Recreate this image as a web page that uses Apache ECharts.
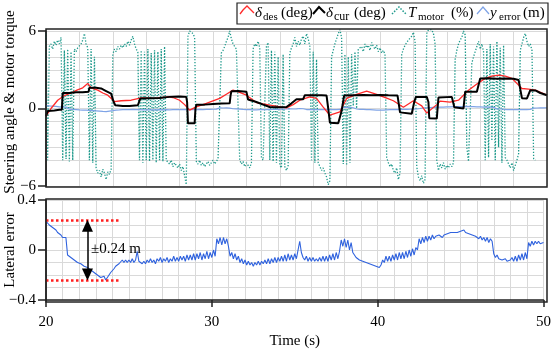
<!DOCTYPE html>
<html><head><meta charset="utf-8">
<script src="https://cdn.jsdelivr.net/npm/echarts@6/dist/echarts.min.js"></script>
<style>html,body{margin:0;padding:0;background:#fff}#c{width:554px;height:350px}</style>
</head><body><div id="c"></div>
<script>
// sampling grid of the sampled series (s)
const T0 = 20, DT = 0.1;

// T_motor (%/10 scale on the top axis), one row per second, 0.1 s steps
const tMotor = [
  5.8, -4.0, 4.8, 5.0, 4.6, 5.2, 4.9, 5.3, 5.0, 5.5,
  -4.0, 4.5, -3.9, 4.6, -4.1, 4.4, -4.0, 4.6, 4.4, 4.7,
  4.6, 5.0, 5.3, 5.8, 5.0, 4.7, -4.0, 4.6, -4.2, 4.0,
  -4.6, -5.0, -4.8, -5.3, -4.7, -5.0, -5.5, -4.9, -5.1, -4.7,
  4.2, 4.6, 4.4, 4.8, 4.6, 4.9, 4.7, 5.0, 4.8, 5.2,
  4.9, 5.3, 5.6, 5.0, 4.6, 4.4, -4.0, 4.5, -4.2, 4.4,
  -4.0, 4.6, -4.1, 4.3, -4.0, 4.5, -4.2, 4.4, -4.0, 4.6,
  -4.1, 4.8, -4.0, -4.1, -4.3, -4.0, -4.5, -4.2, -4.4, -4.6,
  -4.3, -4.8, -4.5, -5.2, -5.9, 5.6, 6.0, 6.1, 5.8, 5.5,
  -4.1, -4.3, -4.0, -4.4, -4.2, -4.5, -4.3, -4.1, -4.4, -4.2,
  -4.0, -4.3, -4.1, -3.9, -3.8, 4.3, 4.5, 4.8, 5.2, 5.5,
  6.0, 5.4, 5.0, 5.1, 4.6, 4.5, -4.0, -4.3, -4.1, -4.5,
  -4.2, -4.4, -4.6, -4.2, 4.6, 5.0, 4.8, 5.2, 4.7, -3.8,
  -4.0, -3.9, 4.8, 5.1, -4.0, 4.5, -4.1, 4.4, -4.2, 4.0,
  -4.4, -4.6, 4.2, -4.5, -4.8, -4.4, 4.3, 4.7, 5.0, 5.5,
  4.8, 5.2, 4.9, 5.4, 5.6, 5.0, 5.8, 5.4, 4.8, -4.0,
  4.4, -4.2, 3.8, -4.2, -4.5, -4.8, -4.6, -5.0, -5.3, -5.9,
  -5.6, 4.0, 4.5, 5.0, 5.4, 5.8, 6.1, 5.5, -4.3, 4.2,
  -4.4, 4.0, -4.2, 4.2, 0.2, 4.4, 0.0, 4.6, 4.5, 4.8,
  4.4, 5.0, 4.7, 4.9, 4.5, 5.1, 4.8, 4.6, 4.9, 4.4,
  4.7, 4.3, 4.5, 4.2, -3.8, -4.2, -4.5, -4.3, -4.8, -5.0,
  -4.6, -5.5, -5.0, 4.2, 4.6, 4.9, 5.0, 5.3, 5.4, 5.6,
  5.9, 5.2, -4.5, -5.3, -5.6, -5.2, -5.8, -5.5, 5.8, 6.1,
  6.0, 6.1, 5.8, 5.0, -4.0, -4.8, -4.3, -4.6, -4.2, -4.7,
  -4.4, -4.6, -4.3, -4.5, -4.2, 3.8, 4.5, 5.0, 5.3, 5.5,
  6.0, 5.7, -3.0, -4.1, -4.0, 3.5, 4.0, 4.4, 4.8, 5.2,
  4.6, 5.0, 4.4, -4.0, 4.6, -3.8, 5.0, -2.5, 4.8, -4.0,
  5.2, -3.0, 4.7, -4.2, 4.9, -3.8, -4.0, -4.3, -4.6, -4.2,
  -4.8, -4.4, -4.0, -3.5, 4.5, 5.0, 5.5, 5.8, 5.2, 4.8,
  5.0, 4.5, -3.9, -4.0
];

// lateral error y_error (m), one row per second, 0.1 s steps
const yErr = [
  0.23, 0.22, 0.20, 0.19, 0.18, 0.17, 0.16, 0.14, 0.13, 0.12,
  0.10, 0.09, 0.10, -0.04, -0.05, -0.06, -0.07, -0.08, -0.09, -0.10,
  -0.11, -0.11, -0.12, -0.13, -0.13, -0.14, -0.15, -0.16, -0.17, -0.18,
  -0.19, -0.20, -0.21, -0.22, -0.23, -0.21, -0.24, -0.22, -0.20, -0.18,
  -0.17, -0.15, -0.13, -0.12, -0.11, -0.10, -0.08, -0.10, -0.08, -0.10,
  -0.08, -0.10, -0.07, -0.10, -0.08, -0.01, -0.09, -0.08, -0.11, -0.09,
  -0.11, -0.08, -0.10, -0.07, -0.10, -0.08, -0.11, -0.07, -0.09, -0.06,
  -0.10, -0.07, -0.09, -0.06, -0.10, -0.07, -0.09, -0.05, -0.09, -0.06,
  -0.09, -0.05, -0.08, -0.05, -0.09, -0.04, -0.08, -0.04, -0.08, -0.03,
  -0.08, -0.03, -0.07, -0.02, -0.08, -0.03, -0.07, -0.01, -0.07, -0.02,
  -0.06, 0.00, -0.05, 0.09, 0.05, 0.10, 0.04, 0.10, 0.05, 0.09,
  0.03, -0.05, -0.02, -0.07, -0.03, -0.08, -0.05, -0.10, -0.07, -0.11,
  -0.08, -0.12, -0.09, -0.12, -0.10, -0.13, -0.10, -0.12, -0.09, -0.12,
  -0.09, -0.11, -0.08, -0.11, -0.07, -0.11, -0.07, -0.10, -0.06, -0.10,
  -0.06, -0.09, -0.05, -0.09, -0.04, -0.09, -0.03, -0.08, -0.04, -0.08,
  -0.03, -0.07, 0.00, 0.07, -0.02, -0.06, -0.08, -0.05, -0.09, -0.06,
  -0.09, -0.06, -0.09, -0.07, -0.09, -0.06, -0.09, -0.05, -0.09, -0.05,
  -0.09, -0.04, -0.08, -0.03, -0.08, -0.02, -0.07, -0.01, 0.08, 0.03,
  0.09, 0.02, 0.08, 0.00, 0.06, -0.02, -0.04, -0.06, -0.07, -0.08,
  -0.07, -0.09, -0.08, -0.10, -0.09, -0.11, -0.10, -0.12, -0.12, -0.13,
  -0.13, -0.14, -0.12, -0.08, -0.10, -0.05, -0.09, -0.05, -0.09, -0.04,
  -0.08, -0.03, -0.08, -0.02, -0.07, -0.02, -0.07, -0.01, -0.06, 0.00,
  -0.05, 0.01, -0.04, 0.02, 0.00, 0.09, 0.05, 0.10, 0.06, 0.11,
  0.07, 0.11, 0.08, 0.12, 0.09, 0.11, 0.10, 0.12, 0.11, 0.10,
  0.12, 0.11, 0.13, 0.12, 0.14, 0.13, 0.14, 0.15, 0.14, 0.15,
  0.15, 0.14, 0.16, 0.14, 0.15, 0.13, 0.14, 0.12, 0.13, 0.11,
  0.12, 0.09, 0.11, 0.08, 0.10, 0.07, 0.10, 0.06, 0.09, 0.07,
  -0.03, -0.06, -0.04, -0.07, -0.06, -0.08, -0.09, -0.07, -0.09, -0.10,
  -0.08, -0.06, -0.09, -0.05, -0.09, -0.04, -0.08, -0.03, -0.08, -0.02,
  -0.07, 0.06, 0.03, 0.07, 0.04, 0.07, 0.05, 0.07, 0.05, 0.06,
  0.06
];

// delta_des (deg)
const desTime = [20.0,20.3,20.7,21.1,21.5,21.85,22.2,22.5,22.7,23.1,23.4,23.7,24.1,24.5,25.1,25.7,26.5,27.3,27.6,28.0,28.3,28.6,29.0,29.6,30.4,30.8,31.2,31.6,32.0,32.6,33.4,34.4,34.8,35.2,35.8,36.2,36.6,37.0,37.6,38.0,38.6,39.2,39.8,40.4,40.8,41.4,42.0,42.5,42.8,43.4,43.6,44.2,44.7,45.3,45.8,46.3,46.7,47.1,47.5,47.9,48.5,48.9,49.3,50.0];
const desVal  = [-0.6,0.0,0.64,1.0,1.2,1.42,1.6,1.94,1.6,1.42,1.2,1.03,0.54,0.6,0.64,0.83,0.78,0.9,0.85,0.64,0.3,-0.13,0.13,0.39,0.78,1.1,1.42,1.25,1.03,0.46,0.26,0.05,0.3,0.64,0.9,0.78,0.1,-0.52,-0.26,0.78,1.1,1.34,1.1,0.8,0.6,0.1,0.6,0.2,-0.35,0.3,0.57,0.5,0.64,1.42,1.9,2.33,2.5,2.58,2.5,2.33,1.55,1.5,1.42,1.03];

// delta_cur (deg)
const curTime = [20.0,20.1,20.2,20.5,20.8,20.95,21.0,21.4,21.8,22.2,22.55,22.6,23.0,23.3,23.6,23.9,24.05,24.15,24.6,25.0,25.5,25.6,25.65,26.2,26.8,27.4,28.0,28.4,28.45,28.5,28.9,28.95,29.0,29.5,30.0,30.5,31.0,31.05,31.1,31.5,32.0,32.1,32.6,33.0,33.4,34.0,34.4,34.7,35.0,35.4,35.5,36.0,36.5,36.8,36.9,37.0,37.5,37.7,37.85,38.5,39.0,39.5,40.0,40.5,41.05,41.2,41.3,41.9,42.05,42.15,42.8,42.9,42.95,43.4,43.5,44.3,44.45,44.5,45.0,45.1,45.8,46.0,46.5,47.0,47.5,48.0,48.3,48.5,48.8,49.0,49.3,49.6,50.0];
const curVal  = [-0.6,-0.2,-0.1,-0.15,-0.1,-0.1,1.2,1.2,1.25,1.25,1.3,1.6,1.6,1.55,1.35,1.15,0.5,0.25,0.2,0.2,0.25,0.3,0.78,0.8,0.82,0.9,0.92,0.9,0.5,-1.15,-1.15,0.0,0.3,0.3,0.35,0.38,0.4,1.0,1.34,1.36,1.3,0.7,0.5,0.3,0.12,0.1,0.12,0.4,0.72,0.72,1.03,1.03,1.03,1.0,0.0,-1.1,-1.15,-0.2,1.0,1.03,1.05,1.03,1.05,1.02,1.0,-0.3,-0.39,-0.4,0.5,0.9,0.9,0.5,-0.75,-0.78,0.85,0.9,0.1,0.0,0.0,1.3,1.3,2.33,2.35,2.3,2.33,2.3,2.2,0.8,0.78,1.42,1.4,1.2,1.03];

// axis ticks and annotation values
const timeTicks = [20, 30, 40, 50];
const topRange = [-6, 6];
const bottomRange = [-0.4, 0.4];
const bandLevel = 0.24;
const bandEnd = 24.4;
const arrowTime = 22.5;
const arrowInset = 0.045;   // half arrow-head, so the tips touch the band lines

const FONT = '"Liberation Serif","Times New Roman",serif';
const GRID = '#d9d9d9';
const sampled = arr => arr.map((v, i) => [Math.round((T0 + i * DT) * 10) / 10, v]);
const paired = (ts, vs) => ts.map((t, i) => [t, vs[i]]);
const fmt = v => (v < 0 ? '\u2212' + (-v) : '' + v);

const chart = echarts.init(document.getElementById('c'), null, { renderer: 'canvas' });

const xCommon = {
  type: 'value', min: timeTicks[0], max: timeTicks[timeTicks.length - 1], interval: 10,
  splitLine: { show: true, lineStyle: { color: GRID, width: 1 } },
  minorSplitLine: { show: true, lineStyle: { color: GRID, width: 1 } }
};

const option = {
  animation: false,
  backgroundColor: '#fff',
  grid: [
    { left: 46, top: 31, width: 501, height: 155 },
    { left: 46, top: 200, width: 501, height: 101 }
  ],
  xAxis: [
    Object.assign({}, xCommon, {
      gridIndex: 0,
      axisLine: { show: false, onZero: false }, axisTick: { show: false }, axisLabel: { show: false },
      minorTick: { show: false, splitNumber: 5 }
    }),
    Object.assign({}, xCommon, {
      gridIndex: 1,
      axisLine: { show: true, onZero: false, lineStyle: { color: '#222', width: 1.5 } },
      axisTick: { show: true, inside: false, length: 7, lineStyle: { color: '#222', width: 1.5 } },
      axisLabel: { show: true, margin: 15, fontSize: 15, color: '#000', fontFamily: FONT },
      minorTick: { show: false, splitNumber: 10 },
      name: 'Time (s)', nameLocation: 'middle', nameGap: 34,
      nameTextStyle: { fontSize: 15, color: '#000', fontFamily: FONT }
    })
  ],
  yAxis: [
    {
      gridIndex: 0, type: 'value', min: topRange[0], max: topRange[1], interval: 6,
      axisLine: { show: true, onZero: false, lineStyle: { color: '#222', width: 1.5 } },
      axisTick: { show: true, inside: false, length: 8, lineStyle: { color: '#222', width: 1.5 } },
      axisLabel: { margin: 10, fontSize: 15, color: '#000', fontFamily: FONT, formatter: fmt },
      splitLine: { show: true, lineStyle: { color: GRID, width: 1 } },
      minorTick: { show: false, splitNumber: 6 },
      minorSplitLine: { show: true, lineStyle: { color: GRID, width: 1 } }
    },
    {
      gridIndex: 1, type: 'value', min: bottomRange[0], max: bottomRange[1], interval: 0.4,
      axisLine: { show: true, onZero: false, lineStyle: { color: '#222', width: 1.5 } },
      axisTick: { show: true, inside: false, length: 8, lineStyle: { color: '#222', width: 1.5 } },
      axisLabel: { margin: 10, fontSize: 15, color: '#000', fontFamily: FONT, formatter: fmt },
      splitLine: { show: true, lineStyle: { color: GRID, width: 1 } },
      minorTick: { show: false, splitNumber: 4 },
      minorSplitLine: { show: true, lineStyle: { color: GRID, width: 1 } }
    }
  ],
  series: [
    {
      name: 'Tmotor', type: 'line', xAxisIndex: 0, yAxisIndex: 0, data: sampled(tMotor),
      showSymbol: false, clip: false, z: 2,
      lineStyle: { color: '#1f9a8c', width: 1.3, type: [1.3, 1.7] }
    },
    {
      name: 'yerrTop', type: 'line', xAxisIndex: 0, yAxisIndex: 0, data: sampled(yErr),
      showSymbol: false, z: 3,
      lineStyle: { color: '#7ea3e6', width: 1.2 }
    },
    {
      name: 'des', type: 'line', xAxisIndex: 0, yAxisIndex: 0, data: paired(desTime, desVal),
      showSymbol: false, z: 4,
      lineStyle: { color: '#ff2a2a', width: 1.3 }
    },
    {
      name: 'cur', type: 'line', xAxisIndex: 0, yAxisIndex: 0, data: paired(curTime, curVal),
      showSymbol: false, z: 5,
      lineStyle: { color: '#000', width: 2 }
    },
    {
      name: 'yerr', type: 'line', xAxisIndex: 1, yAxisIndex: 1, data: sampled(yErr),
      showSymbol: false, z: 4,
      lineStyle: { color: '#2f62de', width: 1.1 },
      markLine: {
        silent: true, symbol: ['none', 'none'], label: { show: false },
        lineStyle: { color: '#ff1f1f', width: 2.5, type: [2.5, 2.5] },
        data: [
          [{ coord: [timeTicks[0], bandLevel] }, { coord: [bandEnd, bandLevel] }],
          [{ coord: [timeTicks[0], -bandLevel] }, { coord: [bandEnd, -bandLevel] }]
        ]
      }
    },
    {
      name: 'arrow', type: 'line', xAxisIndex: 1, yAxisIndex: 1, data: [],
      markLine: {
        silent: true, symbol: ['triangle', 'triangle'], symbolSize: [11, 12],
        label: { show: false },
        lineStyle: { color: '#000', width: 1.5, type: 'solid' },
        data: [
          [{ coord: [arrowTime, bandLevel - arrowInset] }, { coord: [arrowTime, -bandLevel + arrowInset] }]
        ]
      }
    }
  ],
  graphic: [
    { type: 'rect', z: 100, shape: { x: 46, y: 29, width: 501, height: 158 }, style: { fill: 'none', stroke: '#222', lineWidth: 1.5 } },
    { type: 'rect', z: 100, shape: { x: 46, y: 199, width: 501, height: 103 }, style: { fill: 'none', stroke: '#222', lineWidth: 1.5 } },
    { type: 'text', z: 100, x: 10, y: 102, rotation: Math.PI / 2,
      style: { text: 'Steering angle & motor torque', font: '15px ' + FONT, fill: '#000', align: 'center', verticalAlign: 'middle' } },
    { type: 'text', z: 100, x: 10, y: 250, rotation: Math.PI / 2,
      style: { text: 'Lateral error', font: '15px ' + FONT, fill: '#000', align: 'center', verticalAlign: 'middle' } },
    { type: 'text', z: 100, x: 91, y: 249,
      style: { text: '\u00b10.24 m', font: '15px ' + FONT, fill: '#000', align: 'left', verticalAlign: 'middle' } },
    // legend box
    { type: 'rect', z: 100, shape: { x: 237, y: 3, width: 311, height: 21 }, style: { fill: '#fff', stroke: '#222', lineWidth: 1.2 } },
    { type: 'polyline', z: 101, shape: { points: [[240, 14], [243, 10], [247, 6], [250, 9], [254, 13]] }, style: { fill: 'none', stroke: '#ff2a2a', lineWidth: 1.3 } },
    { type: 'text', z: 101, x: 255, y: 13, style: { text: '\u03b4', font: 'italic 15px ' + FONT, fill: '#000', verticalAlign: 'middle' } },
    { type: 'text', z: 101, x: 263, y: 17, style: { text: 'des', font: '11px ' + FONT, fill: '#000', verticalAlign: 'middle' } },
    { type: 'text', z: 101, x: 281, y: 13, style: { text: '(deg)', font: '15px ' + FONT, fill: '#000', verticalAlign: 'middle' } },
    { type: 'polyline', z: 101, shape: { points: [[313, 14], [319, 7], [325, 13]] }, style: { fill: 'none', stroke: '#000', lineWidth: 2 } },
    { type: 'text', z: 101, x: 326, y: 13, style: { text: '\u03b4', font: 'italic 15px ' + FONT, fill: '#000', verticalAlign: 'middle' } },
    { type: 'text', z: 101, x: 334, y: 17, style: { text: 'cur', font: '12px ' + FONT, fill: '#000', verticalAlign: 'middle' } },
    { type: 'text', z: 101, x: 354, y: 13, style: { text: '(deg)', font: '15px ' + FONT, fill: '#000', verticalAlign: 'middle' } },
    { type: 'polyline', z: 101, shape: { points: [[392, 14], [399, 7], [406, 14]] }, style: { fill: 'none', stroke: '#1f9a8c', lineWidth: 1.5, lineDash: [1.5, 1.5] } },
    { type: 'text', z: 101, x: 408, y: 13, style: { text: 'T', font: 'italic 15px ' + FONT, fill: '#000', verticalAlign: 'middle' } },
    { type: 'text', z: 101, x: 418, y: 17, style: { text: 'motor', font: '11px ' + FONT, fill: '#000', verticalAlign: 'middle' } },
    { type: 'text', z: 101, x: 451, y: 13, style: { text: '(%)', font: '15px ' + FONT, fill: '#000', verticalAlign: 'middle' } },
    { type: 'polyline', z: 101, shape: { points: [[477, 14], [483, 7], [489, 14]] }, style: { fill: 'none', stroke: '#7ea3e6', lineWidth: 1.2 } },
    { type: 'text', z: 101, x: 490, y: 13, style: { text: 'y', font: 'italic 15px ' + FONT, fill: '#000', verticalAlign: 'middle' } },
    { type: 'text', z: 101, x: 499, y: 17, style: { text: 'error', font: '11px ' + FONT, fill: '#000', verticalAlign: 'middle' } },
    { type: 'text', z: 101, x: 523, y: 13, style: { text: '(m)', font: '15px ' + FONT, fill: '#000', verticalAlign: 'middle' } }
  ]
};
chart.setOption(option);
</script>
</body></html>
